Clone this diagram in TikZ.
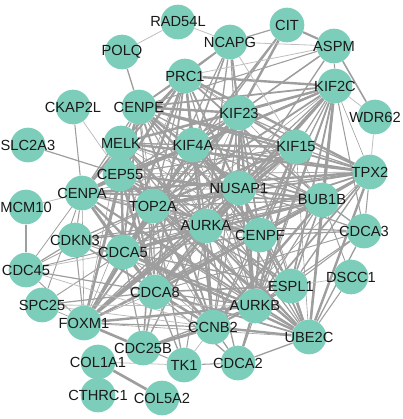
\documentclass[tikz,border=0pt]{standalone}
\usepackage{fontspec}
\setmainfont{Liberation Sans}
\usetikzlibrary{backgrounds}
\definecolor{genefill}{RGB}{124,206,186}
\definecolor{edgegray}{RGB}{158,158,158}
\definecolor{lightedge}{RGB}{190,190,190}
\begin{document}
\begin{tikzpicture}[x=0.75pt,y=-0.75pt,
gene/.style={circle,fill=genefill,minimum size=26pt,inner sep=0pt},
genetext/.style={font=\fontsize{11}{13}\selectfont,text=black!90,inner sep=0pt},
edge/.style={edgegray},
faint/.style={lightedge}]
\useasboundingbox (0,0) rectangle (403,419);
\foreach \n/\x/\y in {RAD54L/178/22,POLQ/122/52,NCAPG/230/42,CIT/287/25,ASPM/334/46,
PRC1/185/76,KIF2C/335/86,WDR62/375/117,CKAP2L/73/107,CENPE/139/107,KIF23/239/113,
SLC2A3/28/145,MELK/121/143,KIF4A/193/145,KIF15/296/147,CEP55/120/174,TPX2/370/172,
CENPA/82/193,TOP2A/153/206,NUSAP1/239/188,BUB1B/322/200,MCM10/26/207,AURKA/206/226,
CENPF/260/235,CDCA3/364/231,CDKN3/75/240,CDCA5/123/252,CDC45/26/270,DSCC1/351/277,
ESPL1/291/286,CDCA8/155/292,SPC25/42/305,AURKB/255/306,FOXM1/84/323,CCNB2/213/327,
UBE2C/309/337,CDC25B/143/348,COL1A1/98/362,TK1/184/365,CDCA2/238/363,CTHRC1/98/395,
COL5A2/162/398}
\node[gene] (\n) at (\x,\y) {};
\begin{pgfonlayer}{background}
\def\hubs{PRC1,CENPE,KIF23,KIF2C,MELK,KIF4A,KIF15,CEP55,CENPA,TOP2A,NUSAP1,TPX2,BUB1B,AURKA,CENPF,CDCA5,CDCA8,AURKB,FOXM1,CCNB2,UBE2C}
\foreach \a [count=\i] in \hubs
\foreach \b [count=\j] in \hubs
{\ifnum\j>\i
\pgfmathsetmacro\w{0.45+0.45*mod(\i*7+\j*11,4)}
\draw[edge,line width=\w pt] (\a)--(\b);
\fi}
\foreach \a/\b/\w in {POLQ/CENPE/1.0,CKAP2L/CENPA/0.8,SLC2A3/CEP55/0.9,MCM10/CDC45/2.0,
NCAPG/CIT/0.9,NCAPG/PRC1/1.2,NCAPG/CENPE/1.0,NCAPG/KIF23/1.6,NCAPG/KIF4A/1.2,NCAPG/TOP2A/0.9,
NCAPG/NUSAP1/0.8,NCAPG/AURKA/1.0,CIT/ASPM/1.6,CIT/KIF23/1.8,CIT/KIF4A/1.2,CIT/TOP2A/1.0,
ASPM/WDR62/1.2,ASPM/KIF23/1.0,ASPM/KIF4A/0.9,ASPM/CENPE/0.8,ASPM/NUSAP1/1.0,ASPM/KIF2C/0.8,
CDKN3/CDC45/0.9,CDKN3/CENPA/0.8,CDKN3/CDCA5/1.0,CDKN3/TOP2A/1.0,CDKN3/AURKA/1.2,CDKN3/FOXM1/0.8,
CDKN3/CCNB2/1.0,CDKN3/CDCA8/0.9,CDKN3/BUB1B/0.8,CDKN3/AURKB/0.7,CDC45/CDCA8/0.9,CDC45/AURKA/0.7,
CDC45/FOXM1/0.7,CDC45/TOP2A/0.6,CDC45/CENPA/0.6,SPC25/CDCA5/0.7,SPC25/CDCA8/0.9,SPC25/FOXM1/0.5,
SPC25/CENPA/0.7,CDCA3/BUB1B/1.0,CDCA3/ESPL1/0.8,CDCA3/UBE2C/1.0,CDCA3/AURKA/0.9,CDCA3/CENPF/1.0,
CDCA3/TPX2/0.8,CDCA3/KIF2C/0.8,CDCA3/NUSAP1/0.9,CDCA3/CDCA8/0.7,CDCA3/AURKB/0.8,ESPL1/KIF2C/1.4,
ESPL1/BUB1B/1.2,ESPL1/AURKA/1.4,ESPL1/AURKB/1.6,ESPL1/UBE2C/1.8,ESPL1/CENPF/1.2,ESPL1/CDCA8/1.2,
ESPL1/TOP2A/1.0,ESPL1/NUSAP1/1.0,ESPL1/CDCA5/1.0,ESPL1/CCNB2/1.2,ESPL1/TPX2/1.0,ESPL1/KIF23/0.9,
DSCC1/UBE2C/0.8,DSCC1/BUB1B/0.7,CDCA2/AURKB/1.6,CDCA2/UBE2C/1.0,CDCA2/CCNB2/1.0,CDCA2/TK1/0.8,
CDCA2/CDCA8/1.0,CDCA2/AURKA/1.0,CDCA2/KIF2C/0.7,TK1/TOP2A/1.0,TK1/FOXM1/0.8,TK1/CDCA8/1.0,
TK1/AURKA/0.8,CDC25B/FOXM1/2.0,CDC25B/CCNB2/2.2,CDC25B/CDCA8/1.2,CDC25B/AURKA/1.0,
CDC25B/TOP2A/1.2,CDC25B/CDCA5/0.9,CDC25B/AURKB/1.0,COL1A1/COL5A2/2.0}
\draw[edge,line width=\w pt] (\a)--(\b);
\foreach \a/\b in {RAD54L/POLQ,RAD54L/NCAPG,CKAP2L/CEP55,MCM10/CENPA,NCAPG/ASPM,NCAPG/KIF15,
ASPM/PRC1,WDR62/KIF2C,WDR62/TPX2,CDC45/CDCA5,CDC45/CCNB2,SPC25/CCNB2,SPC25/AURKB,ESPL1/DSCC1,
TK1/CCNB2,TK1/COL1A1}
\draw[faint,line width=0.6pt] (\a)--(\b);
\end{pgfonlayer}
\foreach \n in {RAD54L,POLQ,NCAPG,CIT,ASPM,PRC1,KIF2C,WDR62,CKAP2L,CENPE,KIF23,SLC2A3,MELK,
KIF4A,KIF15,CEP55,TPX2,CENPA,TOP2A,NUSAP1,BUB1B,MCM10,AURKA,CENPF,CDCA3,CDKN3,CDCA5,CDC45,
DSCC1,ESPL1,CDCA8,SPC25,AURKB,FOXM1,CCNB2,UBE2C,CDC25B,COL1A1,TK1,CDCA2,CTHRC1,COL5A2}
\node[genetext] at (\n) {\n};
\end{tikzpicture}
\end{document}
